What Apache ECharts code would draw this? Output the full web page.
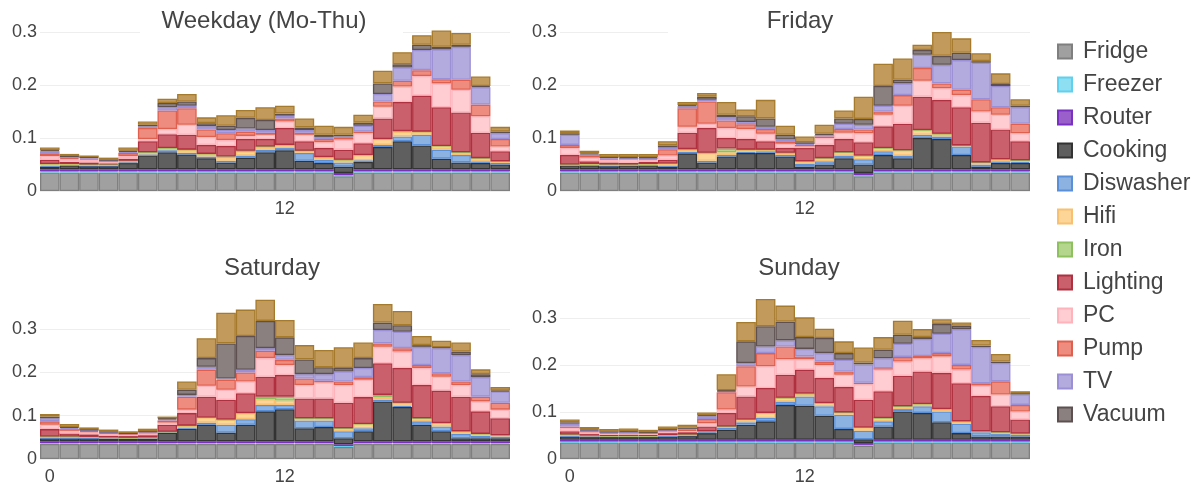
<!DOCTYPE html>
<html><head><meta charset="utf-8">
<script src="https://cdn.jsdelivr.net/npm/echarts@6/dist/echarts.min.js"></script>
<style>html,body{margin:0;padding:0;background:#fff}#c{width:1200px;height:492px}</style>
</head><body><div id="c"></div>
<script>
// ---- categories / labels ----
const hours = ['0','1','2','3','4','5','6','7','8','9','10','11','12','13','14','15','16','17','18','19','20','21','22','23'];
const panelTitles = ['Weekday (Mo-Thu)', 'Friday', 'Saturday', 'Sunday'];
const applianceNames = ['Fridge','Freezer','Router','Cooking','Diswasher','Hifi','Iron','Lighting','PC','Pump','TV','Vacuum','Washing machine'];
const legendNames = ['Fridge','Freezer','Router','Cooking','Diswasher','Hifi','Iron','Lighting','PC','Pump','TV','Vacuum'];
const yTickLabels = ['0','0.1','0.2','0.3'];

// ---- shared base loads ----
const fridge   = [.035,.035,.035,.035,.035,.035,.035,.035,.035,.035,.035,.035,.035,.035,.035,.028,.035,.035,.035,.035,.035,.035,.035,.035];
const freezer  = [.002,.002,.002,.002,.002,.002,.002,.002,.002,.002,.002,.002,.002,.002,.002,.002,.002,.002,.002,.002,.002,.002,.002,.002];
const router   = [.004,.004,.004,.004,.004,.004,.004,.004,.004,.004,.004,.004,.004,.004,.004,.004,.004,.004,.004,.004,.004,.004,.004,.004];

// ---- Weekday (Mo-Thu) ----
const wdCooking  = [.005,.007,.006,.006,.012,.026,.032,.028,.021,.013,.022,.032,.036,.016,.012,.012,.014,.042,.053,.045,.020,.013,.012,.009];
const wdDish     = [.002,.001,.001,.001,.001,.002,.004,.003,.003,.003,.004,.005,.004,.015,.006,.008,.003,.004,.009,.020,.017,.014,.003,.003];
const wdHifi     = [.003,.002,.002,.002,.003,.004,.004,.006,.005,.007,.008,.006,.006,.004,.005,.005,.010,.011,.009,.006,.007,.005,.006,.003];
const wdIron     = [0,0,0,0,0,0,0,0,0,.001,.001,0,0,0,0,0,0,0,.001,0,0,0,0,0];
const wdLighting = [.008,.004,.004,.002,.004,.021,.026,.028,.017,.020,.022,.014,.032,.018,.017,.019,.022,.039,.055,.068,.073,.075,.048,.019];
const wdPC       = [.007,.005,.005,.004,.005,.004,.010,.019,.015,.011,.006,.008,.012,.012,.011,.019,.019,.022,.029,.037,.045,.043,.031,.009];
const wdPump     = [.004,.002,.002,.001,.006,.021,.035,.031,.014,.013,.008,.004,.006,.004,.006,.003,.003,.010,.011,.011,.008,.019,.022,.014];
const wdTV       = [.005,.003,.002,.001,.002,.003,.006,.005,.006,.006,.006,.005,.005,.005,.004,.003,.011,.014,.025,.038,.056,.062,.033,.011];
const wdVacuum   = [.002,.001,.001,.001,.002,.003,.008,.008,.006,.008,.020,.019,.004,.005,.004,.003,.006,.020,.006,.010,.005,.004,.002,.003];
const wdWash     = [.005,.004,.003,.004,.006,.006,.008,.014,.011,.020,.015,.024,.015,.017,.017,.015,.015,.024,.023,.018,.031,.022,.018,.009];

// ---- Friday ----
const frCooking  = [.007,.007,.006,.007,.007,.005,.030,.013,.024,.031,.031,.024,.005,.009,.021,.016,.027,.021,.059,.057,.027,.005,.012,.012];
const frDish     = [.001,.001,.001,.001,.001,.002,.003,.003,.003,.002,.003,.003,.005,.006,.005,.010,.007,.005,.006,.005,.016,.004,.003,.002];
const frHifi     = [.001,.002,.002,.001,.002,.004,.005,.015,.005,.004,.003,.004,.005,.006,.006,.007,.006,.010,.009,.005,.002,.004,.004,.003];
const frIron     = [0,0,0,0,0,0,0,0,.007,0,0,0,0,0,0,0,0,0,0,0,0,0,0,0];
const frLighting = [.018,.005,.004,.003,.004,.007,.031,.047,.020,.020,.016,.009,.025,.025,.025,.025,.041,.050,.063,.064,.072,.075,.056,.036];
const frPC       = [.013,.007,.005,.007,.004,.008,.011,.008,.019,.019,.014,.008,.003,.013,.012,.017,.022,.034,.030,.022,.023,.021,.028,.015];
const frPump     = [.006,.003,.002,.001,.002,.012,.035,.042,.014,.009,.009,.005,.003,.003,.007,.007,.006,.020,.024,.009,.010,.023,.014,.018];
const frTV       = [.019,.003,.002,.001,.001,.003,.004,.003,.006,.004,.004,.003,.002,.003,.010,.009,.011,.022,.025,.035,.056,.069,.040,.031];
const frVacuum   = [.003,.002,.001,.002,.002,.004,.002,.006,.005,.011,.016,.009,.003,.002,.010,.011,.037,.007,.009,.017,.014,.003,.004,.003];
const frWash     = [.005,.005,.006,.006,.006,.008,.006,.007,.024,.013,.035,.017,.011,.017,.015,.042,.042,.040,.010,.045,.027,.015,.020,.012];

// ---- Saturday ----
const saCooking  = [.007,.007,.007,.006,.006,.006,.020,.029,.038,.020,.038,.069,.074,.030,.033,.014,.023,.092,.079,.038,.023,.007,.007,.007];
const saDish     = [.001,.001,.001,.001,.001,.001,.001,.003,.005,.018,.013,.015,.010,.018,.015,.016,.007,.004,.003,.008,.011,.010,.006,.004];
const saHifi     = [.003,.003,.002,.002,.001,.002,.001,.004,.012,.012,.014,.013,.010,.005,.005,.007,.010,.006,.007,.007,.008,.006,.004,.003];
const saIron     = [0,0,0,0,0,0,0,0,0,0,0,.006,.009,0,0,0,0,.005,0,0,0,0,0,0];
const saLighting = [.017,.007,.006,.004,.004,.005,.016,.029,.048,.046,.046,.046,.050,.046,.046,.059,.062,.073,.080,.077,.075,.080,.052,.039];
const saPC       = [.010,.006,.005,.004,.004,.004,.005,.008,.025,.023,.027,.043,.023,.031,.037,.041,.040,.038,.038,.039,.032,.027,.023,.020];
const saPump     = [.008,.004,.003,.002,.001,.003,.005,.030,.037,.023,.021,.017,.012,.015,.004,.008,.006,.008,.008,.007,.008,.008,.011,.016];
const saTV       = [.007,.003,.002,.002,.001,.001,.003,.004,.007,.003,.006,.006,.011,.010,.015,.023,.021,.031,.038,.042,.058,.061,.045,.026];
const saVacuum   = [.004,.002,.001,.001,.001,.001,.002,.012,.020,.081,.078,.063,.041,.034,.016,.008,.023,.017,.015,.004,.002,.008,.007,.002];
const saWash     = [.006,.007,.005,.005,.004,.006,.004,.019,.046,.071,.061,.049,.040,.033,.040,.048,.036,.043,.033,.021,.015,.021,.011,.008];

// ---- Sunday ----
const suCooking  = [.007,.006,.006,.006,.006,.007,.008,.014,.021,.032,.039,.074,.072,.051,.023,.008,.028,.060,.057,.037,.014,.007,.007,.007];
const suDish     = [.001,.001,.001,.001,.001,.001,.001,.002,.004,.005,.007,.007,.020,.020,.030,.018,.011,.005,.014,.023,.020,.009,.005,.004];
const suHifi     = [.003,.002,.001,.001,.001,.002,.002,.002,.003,.006,.011,.008,.006,.007,.005,.007,.007,.006,.005,.005,.005,.002,.004,.002];
const suIron     = [0,0,0,0,0,0,0,0,0,0,0,0,0,0,0,0,0,0,0,0,0,0,0,0];
const suLighting = [.007,.003,.002,.003,.002,.004,.005,.010,.029,.049,.053,.049,.051,.053,.054,.059,.057,.065,.069,.077,.081,.075,.055,.030];
const suPC       = [.007,.004,.003,.003,.003,.004,.003,.007,.007,.021,.046,.033,.022,.028,.026,.033,.046,.030,.028,.035,.029,.022,.025,.017];
const suPump     = [.003,.002,.002,.001,.001,.002,.002,.009,.037,.043,.028,.027,.006,.007,.007,.003,.003,.010,.005,.007,.010,.005,.028,.014];
const suTV       = [.006,.002,.001,.001,.001,.001,.002,.006,.002,.007,.014,.013,.016,.018,.025,.039,.021,.028,.036,.041,.076,.077,.039,.022];
const suVacuum   = [.003,.002,.001,.002,.001,.001,.003,.002,.002,.046,.043,.040,.025,.032,.014,.004,.018,.019,.004,.021,.007,.003,.003,.003];
const suWash     = [.006,.005,.006,.006,.005,.006,.006,.006,.034,.041,.058,.034,.042,.020,.025,.032,.027,.030,.017,.010,.007,.012,.016,.004];

const panelData = [
  [fridge, freezer, router, wdCooking, wdDish, wdHifi, wdIron, wdLighting, wdPC, wdPump, wdTV, wdVacuum, wdWash],
  [fridge, freezer, router, frCooking, frDish, frHifi, frIron, frLighting, frPC, frPump, frTV, frVacuum, frWash],
  [fridge, freezer, router, saCooking, saDish, saHifi, saIron, saLighting, saPC, saPump, saTV, saVacuum, saWash],
  [fridge, freezer, router, suCooking, suDish, suHifi, suIron, suLighting, suPC, suPump, suTV, suVacuum, suWash]
];

// ---- styles ----
const fills   = ['#a0a0a0','#8fdff2','#9b5fcc','#5f5f5f','#8cb2e2','#fdd597','#b4d68c','#c9606c','#ffcdd2','#ee8c80','#b3aade','#8a8080','#c29a5c'];
const borders = ['#7f7f7f','#5fd0ee','#7a30c0','#333333','#5b90d8','#f8c070','#8fc060','#b0303f','#ffb3ba','#e0604f','#9b8fd6','#5e5050','#a67a2c'];

const grids = [
  {left: 40,  top: 23,  width: 470, height: 168},
  {left: 560, top: 23,  width: 470, height: 168},
  {left: 40,  top: 291, width: 470, height: 168},
  {left: 560, top: 291, width: 470, height: 168}
];
const yMax = [0.317, 0.317, 0.388, 0.357];
const titlePos = [[264, 21], [800, 21], [272, 268], [799, 268]];

const FONT = '"Liberation Sans", Arial, sans-serif';
const TXT = '#444';

const xAxes = grids.map((g, p) => ({
  type: 'category', gridIndex: p, data: hours,
  axisLine: {show: false}, axisTick: {show: false},
  axisLabel: {
    interval: (i) => (p >= 2 ? (i === 0 || i === 12) : i === 12),
    fontSize: 18, color: TXT, fontFamily: FONT, margin: 9
  }
}));
const yAxes = grids.map((g, p) => ({
  type: 'value', gridIndex: p, min: 0, max: yMax[p], interval: 0.1,
  axisLine: {show: false}, axisTick: {show: false},
  splitLine: {show: true, showMaxLine: false, lineStyle: {color: '#eeeeee', width: 1}},
  axisLabel: {
    showMaxLabel: false, fontSize: 18, color: TXT, fontFamily: FONT, margin: 3,
    formatter: (v) => { const k = Math.round(v * 10); return (Math.abs(v * 10 - k) < 1e-6 && k < yTickLabels.length) ? yTickLabels[k] : ''; }
  }
}));

const series = [];
panelData.forEach((arrs, p) => {
  arrs.forEach((arr, s) => {
    series.push({
      type: 'bar', name: applianceNames[s], stack: 'p' + p,
      xAxisIndex: p, yAxisIndex: p, data: arr,
      barCategoryGap: '0%', barGap: '0%',
      itemStyle: {color: fills[s], borderColor: borders[s], borderWidth: 1.3},
      emphasis: {disabled: true}, animation: false
    });
  });
});

const graphics = [
  {type: 'rect', z: 10, shape: {x: 140, y: 29, width: 263, height: 6}, style: {fill: '#fff'}},
  {type: 'rect', z: 10, shape: {x: 668, y: 29, width: 263, height: 6}, style: {fill: '#fff'}}
];
panelTitles.forEach((t, i) => {
  graphics.push({type: 'text', z: 11, x: titlePos[i][0], y: titlePos[i][1],
    style: {text: t, fontSize: 24, fontFamily: FONT, fill: TXT, align: 'center', verticalAlign: 'middle', textAlign: 'center', textVerticalAlign: 'middle'}});
});

const chart = echarts.init(document.getElementById('c'), null, {renderer: 'canvas'});
chart.setOption({
  animation: false,
  backgroundColor: '#fff',
  grid: grids,
  xAxis: xAxes,
  yAxis: yAxes,
  legend: {
    data: legendNames, orient: 'vertical', left: 1052, top: 35,
    itemWidth: 14, itemHeight: 14, itemGap: 10, icon: 'rect',
    textStyle: {fontSize: 23, color: TXT, fontFamily: FONT, padding: [0, 0, 0, 6]},
    selectedMode: false
  },
  tooltip: {show: false},
  graphic: graphics,
  series: series
});
</script></body></html>
